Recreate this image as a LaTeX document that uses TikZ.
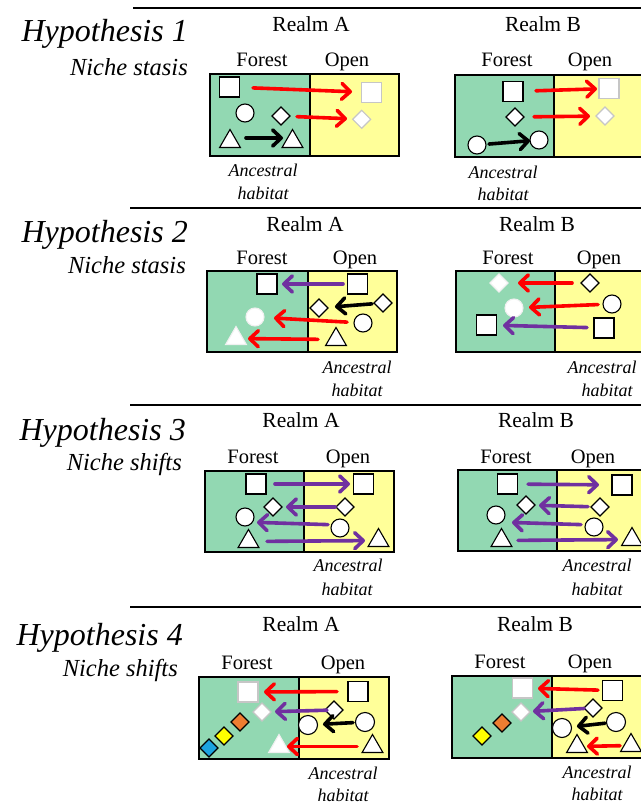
\documentclass[tikz,border=0pt]{standalone}
\usepackage{fontspec}
\setmainfont{Liberation Serif}
\usetikzlibrary{arrows.meta,shapes.geometric}
\definecolor{forestg}{RGB}{146,216,178}
\definecolor{openy}{RGB}{255,255,153}
\definecolor{arrred}{RGB}{255,0,0}
\definecolor{arrpur}{RGB}{112,48,160}
\definecolor{dorange}{RGB}{237,125,49}
\definecolor{dyellow}{RGB}{255,255,0}
\definecolor{dblue}{RGB}{28,163,224}
\tikzset{
  shp/.style={draw, fill=white, inner sep=0pt, outer sep=0pt, line width=1.1pt},
  sq/.style={shp, rectangle, minimum size=20pt},
  dm/.style={shp, diamond, minimum width=18pt, minimum height=18pt},
  ci/.style={shp, circle, minimum size=18pt},
  tri/.style={shp, regular polygon, regular polygon sides=3, minimum size=24pt},
  faint/.style={draw=gray!45},
  ghost/.style={draw=gray!12},
  forestbox/.style={draw, line width=1.3pt, fill=forestg},
  openbox/.style={draw, line width=1.3pt, fill=openy},
  arr/.style={line width=3.6pt, line cap=round, -{Straight Barb[length=8.5pt,width=16pt,line cap=round,line join=round]}},
  redarr/.style={arr, draw=arrred},
  purarr/.style={arr, draw=arrpur},
  blkarr/.style={arr, draw=black},
  rule/.style={line width=2.4pt},
  hyp/.style={font=\fontsize{32}{36}\selectfont\itshape, anchor=base east, inner sep=0pt},
  niche/.style={font=\fontsize{24.5}{28}\selectfont\itshape, anchor=base east, inner sep=0pt},
  realm/.style={font=\fontsize{21.5}{25}\selectfont, anchor=base, inner sep=0pt},
  hab/.style={font=\fontsize{20.5}{24}\selectfont, anchor=base, inner sep=0pt},
  anc/.style={font=\fontsize{18}{22}\selectfont\itshape, inner sep=0pt},
}
\begin{document}
\begin{tikzpicture}[x=1pt,y=-1pt]
\useasboundingbox (0,0) rectangle (640,805);
% rules
\draw[rule] (133,8) -- (645,8);
\draw[rule] (130,208) -- (645,208);
\draw[rule] (130,405) -- (645,405);
\draw[rule] (130,607) -- (645,607);
% hypothesis labels
\node[hyp] (h1) at (188,42) {Hypothesis 1};
\node[niche] (n1) at (188,76) {Niche stasis};
\node[hyp] (h2) at (188,242) {Hypothesis 2};
\node[niche] (n2) at (186,273) {Niche stasis};
\node[hyp] (h3) at (186,440) {Hypothesis 3};
\node[niche] (n3) at (182,470) {Niche shifts};
\node[hyp] (h4) at (183,645) {Hypothesis 4};
\node[niche] (n4) at (178,676) {Niche shifts};
% realm labels
\node[realm] (r1a) at (311,32) {Realm A};
\node[realm] (r1b) at (543,32) {Realm B};
\node[realm] (r2a) at (305,231) {Realm A};
\node[realm] (r2b) at (537,231) {Realm B};
\node[realm] (r3a) at (301,427) {Realm A};
\node[realm] (r3b) at (536,427) {Realm B};
\node[realm] (r4a) at (301,631) {Realm A};
\node[realm] (r4b) at (535,631) {Realm B};

% ================= H1 A
\node[hab] (f1a) at (262,67) {Forest};
\node[hab] (o1a) at (347,67) {Open};
\draw[forestbox] (210,74) rectangle (310,156);
\draw[openbox] (310,74) rectangle (399,156);
\node[sq] (s1) at (229.5,87) {};
\node[sq,faint] (s2) at (371.5,92.5) {};
\node[ci] (c1) at (245,113) {};
\node[dm] (d1) at (281,116) {};
\node[dm,faint] (d2) at (361.7,119.3) {};
\node[tri] (t1) at (230,141.5) {};
\node[tri] (t2) at (292.5,141.5) {};
\draw[redarr, shorten <=23.5pt, shorten >=19.5pt] (s1.center) -- (s2.center);
\draw[redarr, shorten <=16pt, shorten >=14.7pt] (d1.center) -- (d2.center);
\draw[blkarr, shorten <=16pt, shorten >=9.5pt] ([yshift=3.5pt]t1.center) -- ([yshift=3.5pt]t2.center);
\node[anc] (a1a) at (263,170) {Ancestral};
\node[anc] (b1a) at (263,193) {habitat};

% ================= H1 B
\node[hab] (f1b) at (507,67) {Forest};
\node[hab] (o1b) at (590,67) {Open};
\draw[forestbox] (455,75) rectangle (554,157);
\draw[openbox] (554,75) rectangle (645,157);
\node[sq] (s3) at (513,91.5) {};
\node[sq,faint] (s4) at (609,88.5) {};
\node[dm] (d3) at (515,117) {};
\node[dm,faint] (d4) at (605,116) {};
\node[ci] (c3) at (477,145) {};
\node[ci] (c4) at (539,140) {};
\draw[redarr, shorten <=23pt, shorten >=12pt] (s3.center) -- (s4.center);
\draw[redarr, shorten <=19pt, shorten >=15pt] (d3.center) -- (d4.center);
\draw[blkarr, shorten <=12pt, shorten >=9pt] (c3.center) -- (c4.center);
\node[anc] (a1b) at (503,172) {Ancestral};
\node[anc] (b1b) at (503,194) {habitat};

% ================= H2 A
\node[hab] (f2a) at (262,264) {Forest};
\node[hab] (o2a) at (355,264) {Open};
\draw[forestbox] (207,271) rectangle (308,352);
\draw[openbox] (308,271) rectangle (397,352);
\node[sq] (s5) at (267,284) {};
\node[sq] (s6) at (357.5,284) {};
\node[dm] (d5) at (319,308) {};
\node[dm] (d6) at (383,303) {};
\node[ci,ghost] (c5) at (255,317) {};
\node[ci] (c6) at (363,323) {};
\node[tri,ghost] (t5) at (236,338.5) {};
\node[tri] (t6) at (336,339.5) {};
\draw[purarr, shorten <=14.5pt, shorten >=15pt] (s6.center) -- (s5.center);
\draw[blkarr, shorten <=11pt, shorten >=16pt] (d6.center) -- (d5.center);
\draw[redarr, shorten <=16pt, shorten >=19pt] (c6.center) -- (c5.center);
\draw[redarr, shorten <=18pt, shorten >=12pt] (t6.center) -- (t5.center);
\node[anc] (a2a) at (357,367) {Ancestral};
\node[anc] (b2a) at (357,390) {habitat};

% ================= H2 B
\node[hab] (f2b) at (508,264) {Forest};
\node[hab] (o2b) at (599,264) {Open};
\draw[forestbox] (456,271) rectangle (555,352);
\draw[openbox] (555,271) rectangle (645,352);
\node[dm,ghost] (d7) at (499,283) {};
\node[dm] (d8) at (590,283) {};
\node[ci,ghost] (c7) at (514,308) {};
\node[ci] (c8) at (612,304) {};
\node[sq] (s7) at (486.5,325) {};
\node[sq] (s8) at (604,328) {};
\draw[redarr, shorten <=18pt, shorten >=19pt] (d8.center) -- (d7.center);
\draw[redarr, shorten <=14pt, shorten >=15pt] (c8.center) -- (c7.center);
\draw[purarr, shorten <=17pt, shorten >=16.5pt] (s8.center) -- (s7.center);
\node[anc] (a2b) at (602,367) {Ancestral};
\node[anc] (b2b) at (607,390) {habitat};

% ================= H3 A
\node[hab] (f3a) at (253,463) {Forest};
\node[hab] (o3a) at (348,463) {Open};
\draw[forestbox] (205,471) rectangle (304,552);
\draw[openbox] (304,471) rectangle (394,552);
\node[sq] (s9) at (256,484) {};
\node[sq] (s10) at (363.5,484) {};
\node[dm] (d9) at (273,507) {};
\node[dm] (d10) at (345,507) {};
\node[ci] (c9) at (245,517) {};
\node[ci] (c10) at (340,528) {};
\node[tri] (t9) at (248.5,541.5) {};
\node[tri] (t10) at (378.5,540.5) {};
\draw[purarr, shorten <=19pt, shorten >=13.5pt] (s9.center) -- (s10.center);
\draw[purarr, shorten <=10pt, shorten >=13pt] (d10.center) -- (d9.center);
\draw[purarr, shorten <=12pt, shorten >=12pt] ([yshift=3pt]c10.center) -- ([yshift=-5pt]c9.center);
\draw[purarr, shorten <=18.5pt, shorten >=13.5pt] (t9.center) -- (t10.center);
\node[anc] (a3a) at (348,565) {Ancestral};
\node[anc] (b3a) at (347,589) {habitat};

% ================= H3 B
\node[hab] (f3b) at (506,463) {Forest};
\node[hab] (o3b) at (593,463) {Open};
\draw[forestbox] (458,470) rectangle (557,551);
\draw[openbox] (557,470) rectangle (645,551);
\node[sq] (s11) at (507.5,484) {};
\node[sq] (s12) at (622,485) {};
\node[dm] (d11) at (526,505) {};
\node[dm] (d12) at (600,507) {};
\node[ci] (c11) at (496,515) {};
\node[ci] (c12) at (594,527) {};
\node[tri] (t11) at (501.5,540.5) {};
\node[tri] (t12) at (632,539.5) {};
\draw[purarr, shorten <=20.5pt, shorten >=23pt] (s11.center) -- (s12.center);
\draw[purarr, shorten <=12pt, shorten >=13pt] (d12.center) -- (d11.center);
\draw[purarr, shorten <=13pt, shorten >=16pt] ([yshift=2pt]c12.center) -- ([yshift=-7pt]c11.center);
\draw[purarr, shorten <=16.5pt, shorten >=14pt] (t11.center) -- (t12.center);
\node[anc] (a3b) at (597,565) {Ancestral};
\node[anc] (b3b) at (597,589) {habitat};

% ================= H4 A
\node[hab] (f4a) at (247,669) {Forest};
\node[hab] (o4a) at (343,669) {Open};
\draw[forestbox] (199,677) rectangle (299,759);
\draw[openbox] (299,677) rectangle (389,759);
\node[sq,faint] (s13) at (248,692) {};
\node[sq] (s14) at (358,691.5) {};
\node[dm,faint] (d13) at (262,712) {};
\node[dm] (d14) at (334,710) {};
\node[dm,fill=dorange] (o13) at (240,722) {};
\node[dm,fill=dyellow] (y13) at (224,736) {};
\node[dm,fill=dblue] (b13) at (209,748) {};
\node[ci,minimum size=19pt] (c13) at (308,725) {};
\node[ci,minimum size=19pt] (c14) at (365,722) {};
\node[tri,ghost] (t13) at (279,746.5) {};
\node[tri] (t14) at (372.5,746.5) {};
\draw[redarr, shorten <=21pt, shorten >=16pt] (s14.center) -- (s13.center);
\draw[purarr, shorten <=7pt, shorten >=13pt] (d14.center) -- (d13.center);
\draw[blkarr, shorten <=12pt, shorten >=15pt] (c14.center) -- (c13.center);
\draw[redarr, shorten <=15.5pt, shorten >=8pt] (t14.center) -- (t13.center);
\node[anc] (a4a) at (343,773) {Ancestral};
\node[anc] (b4a) at (343,795.5) {habitat};

% ================= H4 B
\node[hab] (f4b) at (500,668) {Forest};
\node[hab] (o4b) at (590,668) {Open};
\draw[forestbox] (452,676) rectangle (552,758);
\draw[openbox] (552,676) rectangle (645,758);
\node[sq,faint] (s15) at (522.5,688) {};
\node[sq] (s16) at (612.5,690.5) {};
\node[dm,faint] (d15) at (521,712) {};
\node[dm] (d16) at (593,708) {};
\node[dm,fill=dorange] (o15) at (502,723) {};
\node[dm,fill=dyellow] (y15) at (482,736) {};
\node[ci,minimum size=19pt] (c15) at (562,728) {};
\node[ci,minimum size=19pt] (c16) at (616,722) {};
\node[tri] (t15) at (577,746.5) {};
\node[tri] (t16) at (631,745.5) {};
\draw[redarr, shorten <=14.5pt, shorten >=15.5pt] (s16.center) -- (s15.center);
\draw[purarr, shorten <=9pt, shorten >=12pt] (d16.center) -- (d15.center);
\draw[blkarr, shorten <=11pt, shorten >=15pt] (c16.center) -- (c15.center);
\draw[redarr, shorten <=11pt, shorten >=10pt] (t16.center) -- (t15.center);
\node[anc] (a4b) at (597,772) {Ancestral};
\node[anc] (b4b) at (597,794.5) {habitat};
\end{tikzpicture}
\end{document}
